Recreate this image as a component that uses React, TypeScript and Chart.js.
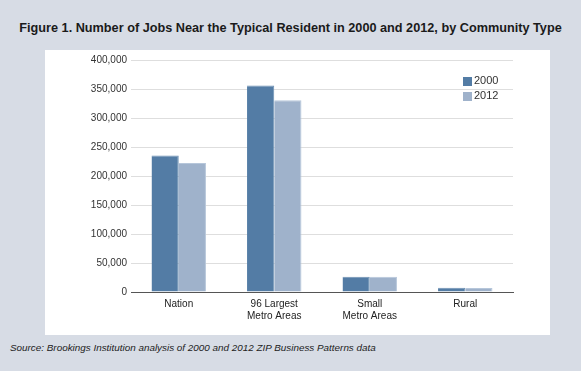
import React, { useEffect, useRef } from "react";
import { Chart, registerables } from "chart.js";

Chart.register(...registerables);

const categories: string[][] = [["Nation"], ["96 Largest", "Metro Areas"], ["Small", "Metro Areas"], ["Rural"]];
const seriesNames = ["2000", "2012"];
const values2000 = [235500, 356000, 26500, 7200];
const values2012 = [222500, 330500, 26500, 7000];
const yMax = 400000;
const yStep = 50000;
const colors = ["#537ca5", "#9fb2cb"];

const title = "Figure 1. Number of Jobs Near the Typical Resident in 2000 and 2012, by Community Type";
const source = "Source: Brookings Institution analysis of 2000 and 2012 ZIP Business Patterns data";

const FONT = "'Liberation Sans', Arial, sans-serif";

export default function App() {
  const ref = useRef<HTMLCanvasElement | null>(null);
  useEffect(() => {
    if (!ref.current) return;
    const chart = new Chart(ref.current, {
      type: "bar",
      data: {
        labels: categories,
        datasets: [
          { label: seriesNames[0], data: values2000, backgroundColor: colors[0], borderColor: "#6d90b4", borderWidth: { top: 1, left: 0, right: 1, bottom: 0 } as any },
          { label: seriesNames[1], data: values2012, backgroundColor: colors[1], borderColor: "#b6c6da", borderWidth: { top: 1, left: 0, right: 1, bottom: 0 } as any },
        ],
      },
      options: {
        animation: false,
        responsive: false,
        maintainAspectRatio: false,
        layout: { padding: { left: 0, right: 37, top: 8, bottom: 0 } },
        plugins: { legend: { display: false }, tooltip: { enabled: false } },
        datasets: { bar: { categoryPercentage: 0.57, barPercentage: 1.0 } },
        scales: {
          x: {
            grid: { display: false, drawTicks: false },
            border: { display: true, color: "#555555", width: 1 },
            ticks: { color: "#222222", font: { family: FONT, size: 10 }, padding: 6, maxRotation: 0 },
            afterFit: (s: any) => { s.height = 43; },
          },
          y: {
            min: 0,
            max: yMax,
            grid: { color: "#dedede", drawTicks: false },
            border: { display: false },
            ticks: {
              stepSize: yStep,
              color: "#333333",
              font: { family: FONT, size: 10 },
              padding: 4,
              callback: (v: any) => Number(v).toLocaleString("en-US"),
            },
            afterFit: (s: any) => { s.width = 86; },
          },
        },
      },
    });
    return () => chart.destroy();
  }, []);

  return (
    <div style={{ position: "absolute", left: 0, top: 0, width: 581, height: 371, background: "#d7dce5", overflow: "hidden" }}>
      <div style={{ position: "absolute", left: 0, top: 21, width: 581, textAlign: "center", fontFamily: FONT, fontWeight: "bold", fontSize: 12.7, color: "#1a1a1a" }}>{title}</div>
      <div style={{ position: "absolute", left: 45, top: 50, width: 505, height: 285, background: "#ffffff" }}>
        <canvas ref={ref} width={505} height={285} style={{ display: "block" }} />
      </div>
      <div style={{ position: "absolute", left: 463, top: 77, width: 9, height: 9, background: colors[0] }} />
      <div style={{ position: "absolute", left: 474, top: 74, fontFamily: FONT, fontSize: 11, color: "#333" }}>{seriesNames[0]}</div>
      <div style={{ position: "absolute", left: 463, top: 92, width: 9, height: 9, background: colors[1] }} />
      <div style={{ position: "absolute", left: 474, top: 89, fontFamily: FONT, fontSize: 11, color: "#333" }}>{seriesNames[1]}</div>
      <div style={{ position: "absolute", left: 10, top: 342, fontFamily: FONT, fontStyle: "italic", fontSize: 9.9, color: "#222" }}>{source}</div>
    </div>
  );
}
